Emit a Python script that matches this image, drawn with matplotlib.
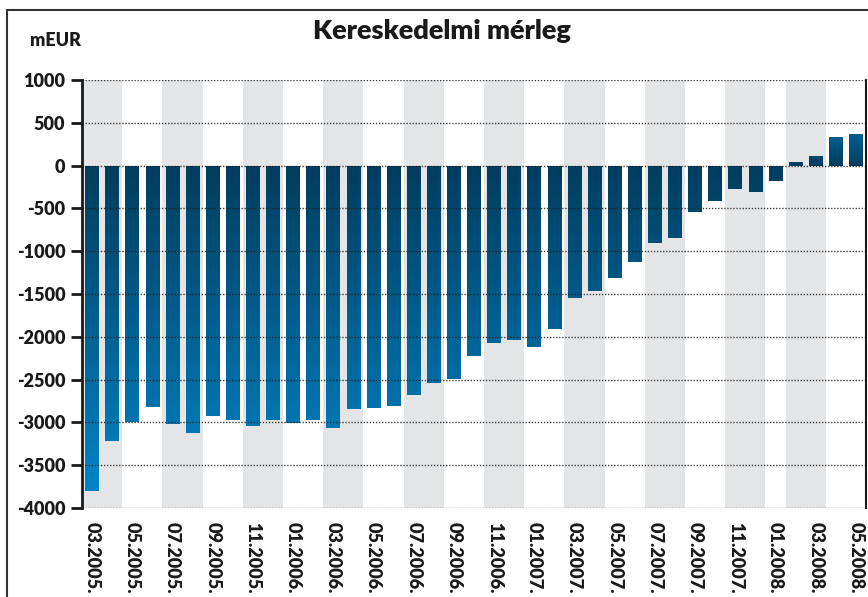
import matplotlib
matplotlib.use("Agg")
import matplotlib.pyplot as plt
import numpy as np
import pandas as pd
from matplotlib.colors import LinearSegmentedColormap
from matplotlib.patches import Rectangle

plt.rcParams["font.family"] = ["Lato", "DejaVu Sans"]

# monthly trade balance, mEUR
months = pd.period_range("2005-03", "2008-05", freq="M").strftime("%m.%Y.").tolist()
balance = [-3800, -3220, -2990, -2825, -3020, -3125, -2930, -2975, -3045, -2975,
           -3010, -2967, -3060, -2840, -2827, -2805, -2675, -2535, -2490, -2230,
           -2068, -2033, -2115, -1905, -1552, -1468, -1316, -1130, -907, -849,
           -545, -409, -277, -312, -183, 47, 109, 331, 366]
# shaded two-month periods (first month of each)
shaded_from = ["03.2005.", "07.2005.", "11.2005.", "03.2006.", "07.2006.",
               "11.2006.", "03.2007.", "07.2007.", "11.2007.", "02.2008."]
yticks = list(range(-4000, 1001, 500))

DARK = "#003d5e"; LIGHT = "#0088cc"; BAND = "#e4e5e7"; INK = "#1a1a1a"
cmap = LinearSegmentedColormap.from_list("bar", [DARK, LIGHT])

fig = plt.figure(figsize=(8.68, 5.97), dpi=100)
ax = fig.add_axes([82 / 868, 1 - 508 / 597, (866 - 82) / 868, (508 - 80) / 597])
x = np.arange(len(months))

for lab in shaded_from:
    i = months.index(lab)
    ax.axvspan(i - 0.5, i + 1.5, color=BAND, lw=0, zorder=0)

bars = ax.bar(x, balance, width=0.68, color="none", lw=0, zorder=2)
for b, v in zip(bars, balance):
    x0, w = b.get_x(), b.get_width()
    y0, y1 = sorted([0, v])
    ys = np.linspace(y1, y0, 80)
    t = np.abs(ys) / (4000 if v < 0 else 800)
    im = ax.imshow(t[:, None], extent=[x0, x0 + w, y0, y1], cmap=cmap, vmin=0, vmax=1,
                   aspect="auto", interpolation="bilinear", zorder=2)
    im.set_clip_path(b)

for v in yticks:
    ax.axhline(v, color="#222222", lw=1.0, ls=(0, (1, 1.2)), alpha=0.85, zorder=3)

ax.set_xlim(-0.5, len(months) - 0.5)
ax.set_ylim(-4000, 1000)
ax.set_aspect("auto")

for s in ("top", "bottom"):
    ax.spines[s].set_visible(False)
ax.spines["left"].set_linewidth(2.0)
ax.spines["right"].set_linewidth(1.5)
for s in ("left", "right"):
    ax.spines[s].set_color(INK)
    ax.spines[s].set_zorder(4)

ax.set_yticks(yticks, [str(v) for v in yticks], fontsize=13, fontweight="heavy", color=INK)
ax.tick_params(axis="y", length=8, width=2, direction="out", pad=4, color=INK)
ax.set_xticks(x[::2], months[::2], rotation=270, fontsize=13, fontweight="heavy",
              color=INK, va="top", ha="center")
ax.tick_params(axis="x", length=0, pad=10)

fig.text(442 / 868, 1 - 39 / 597, "Kereskedelmi mérleg", ha="center", va="baseline",
         fontsize=19.5, fontweight="heavy", color=INK)
fig.text(30 / 868, 1 - 46 / 597, "mEUR", ha="left", va="baseline",
         fontsize=13, fontweight="heavy", color=INK)

fig.add_artist(Rectangle((7 / 868, -0.1), 2, 1 - 10 / 597 + 0.1, transform=fig.transFigure,
                         fill=False, lw=1.5, ec="#333333"))

fig.savefig("out.png", dpi=100)
